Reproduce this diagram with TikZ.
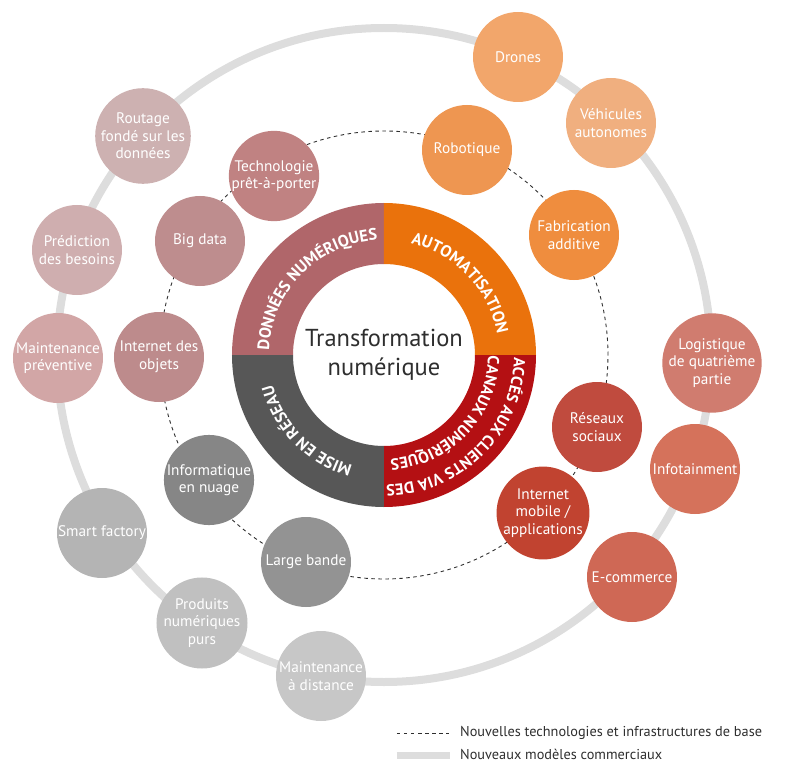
\documentclass[tikz,border=0pt]{standalone}
\usepackage{fontspec}
\setmainfont{PT Sans}
\usetikzlibrary{positioning,decorations.text}

\definecolor{donneesC}{HTML}{B0666A}
\definecolor{autoC}{HTML}{EA720C}
\definecolor{accesC}{HTML}{B41013}
\definecolor{reseauC}{HTML}{575757}
\definecolor{modelC}{HTML}{DDDDDD}
\definecolor{darkT}{HTML}{2E2E2E}

\begin{document}
\begin{tikzpicture}
  [x=1pt,y=1pt,
   bubbleN/.style={circle,minimum size=90pt,inner sep=0pt,text=white,align=center,
                   font=\fontsize{15.3}{17.5}\selectfont},
   techLine/.style={draw=darkT,line width=0.9pt,dash pattern=on 3.5pt off 3.5pt},
   modelLine/.style={draw=modelC,line width=8pt},
   legendT/.style={anchor=west,text=darkT,inner sep=0pt,font=\fontsize{14.3}{16}\selectfont}]

  \useasboundingbox (-384,-408) rectangle (411,355);
  \coordinate (centre) at (0,0);

  % rings
  \draw[modelLine] (centre) circle[radius=327pt];
  \draw[techLine]  (centre) circle[radius=224pt];

  % quadrants
  \fill[donneesC] (90:152pt) arc[start angle=90,end angle=180,radius=152pt]
    -- (180:91pt) arc[start angle=180,end angle=90,radius=91pt] -- cycle;
  \fill[autoC] (0:152pt) arc[start angle=0,end angle=90,radius=152pt]
    -- (90:91pt) arc[start angle=90,end angle=0,radius=91pt] -- cycle;
  \fill[accesC] (270:152pt) arc[start angle=270,end angle=360,radius=152pt]
    -- (0:91pt) arc[start angle=360,end angle=270,radius=91pt] -- cycle;
  \fill[reseauC] (180:152pt) arc[start angle=180,end angle=270,radius=152pt]
    -- (270:91pt) arc[start angle=270,end angle=180,radius=91pt] -- cycle;

  \path[decorate,decoration={text along path,text align=center,text color=white,
      text={|\bfseries\fontsize{16.5}{16.5}\selectfont|DONNÉES NUMÉRIQUES}}]
    (178:115pt) arc[start angle=178,end angle=93,radius=115pt];
  \path[decorate,decoration={text along path,text align=center,text color=white,
      text={|\bfseries\fontsize{16.5}{16.5}\selectfont|AUTOMATISATION}}]
    (86:115pt) arc[start angle=86,end angle=1,radius=115pt];
  \path[decorate,decoration={text along path,text align=center,text color=white,
      text={|\bfseries\fontsize{16}{16}\selectfont|ACCÉS AUX CLIENTS VIA DES}}]
    (-0.5:130pt) arc[start angle=-0.5,end angle=-89.5,radius=130pt];
  \path[decorate,decoration={text along path,text align=center,text color=white,
      text={|\bfseries\fontsize{16}{16}\selectfont|CANAUX NUMÉRIQUES}}]
    (-1:104pt) arc[start angle=-1,end angle=-86,radius=104pt];
  \path[decorate,decoration={text along path,text align=center,text color=white,
      text={|\bfseries\fontsize{16.5}{16.5}\selectfont|MISE EN RÉSEAU}}]
    (268:115pt) arc[start angle=268,end angle=181,radius=115pt];

  \node[text=darkT,align=center,font=\fontsize{24.5}{29}\selectfont] (transfo) at (centre)
    {Transformation\\numérique};

  % nouvelles technologies
  \node[bubbleN,fill={rgb,255:red,238;green,150;blue,81}]  (robotique)   at (83,205)   {Robotique};
  \node[bubbleN,fill={rgb,255:red,239;green,141;blue,62}]  (fabrication) at (190,120)  {Fabrication\\additive};
  \node[bubbleN,fill={rgb,255:red,192;green,75;blue,62}]   (reseaux)     at (213,-72)  {Réseaux\\sociaux};
  \node[bubbleN,fill={rgb,255:red,193;green,67;blue,48}]   (mobile)      at (159,-158) {Internet\\mobile /\\applications};
  \node[bubbleN,fill={rgb,255:red,147;green,147;blue,147}] (largeBande)  at (-78,-207) {Large bande};
  \node[bubbleN,fill={rgb,255:red,134;green,134;blue,134}] (nuage)       at (-175,-125) {Informatique\\en nuage};
  \node[bubbleN,fill={rgb,255:red,189;green,139;blue,140}] (iot)         at (-225,-2)  {Internet des\\objets};
  \node[bubbleN,fill={rgb,255:red,190;green,141;blue,142}] (bigData)     at (-184,114) {Big data};
  \node[bubbleN,fill={rgb,255:red,192;green,130;blue,130}] (wearable)    at (-110,179) {Technologie\\prêt-à-porter};

  % nouveaux modeles
  \node[bubbleN,fill={rgb,255:red,242;green,166;blue,107}] (drones)       at (134,298)  {Drones};
  \node[bubbleN,fill={rgb,255:red,240;green,175;blue,127}] (vehicules)    at (227,232)  {Véhicules\\autonomes};
  \node[bubbleN,fill={rgb,255:red,208;green,124;blue,111}] (logistique)   at (328,-8)   {Logistique\\de quatrième\\partie};
  \node[bubbleN,fill={rgb,255:red,213;green,114;blue,91}]  (infotainment) at (311,-114) {Infotainment};
  \node[bubbleN,fill={rgb,255:red,207;green,104;blue,85}]  (ecommerce)    at (248,-222) {E-commerce};
  \node[bubbleN,fill={rgb,255:red,199;green,199;blue,199}] (maintDist)    at (-63,-321) {Maintenance\\à distance};
  \node[bubbleN,fill={rgb,255:red,192;green,192;blue,192}] (produits)     at (-182,-268) {Produits\\numériques\\purs};
  \node[bubbleN,fill={rgb,255:red,180;green,180;blue,180}] (smartFactory) at (-282,-178) {Smart factory};
  \node[bubbleN,fill={rgb,255:red,210;green,166;blue,166}] (maintPrev)    at (-326,-3)  {Maintenance\\préventive};
  \node[bubbleN,fill={rgb,255:red,207;green,174;blue,175}] (prediction)   at (-307,105) {Prédiction\\des besoins};
  \node[bubbleN,fill={rgb,255:red,205;green,177;blue,177}] (routage)      at (-241,219) {Routage\\fondé sur les\\données};

  % legende
  \coordinate (techA)  at (13,-378);
  \coordinate (techB)  at (65,-378);
  \coordinate (modelA) at (13,-400);
  \coordinate (modelB) at (66,-400);
  \draw[techLine]  (techA) -- (techB);
  \draw[modelLine,line width=7pt] (modelA) -- (modelB);
  \node[legendT] (techT)  at (76,-378) {Nouvelles technologies et infrastructures de base};
  \node[legendT] (modelT) at (76,-399) {Nouveaux modèles commerciaux};

\end{tikzpicture}
\end{document}
